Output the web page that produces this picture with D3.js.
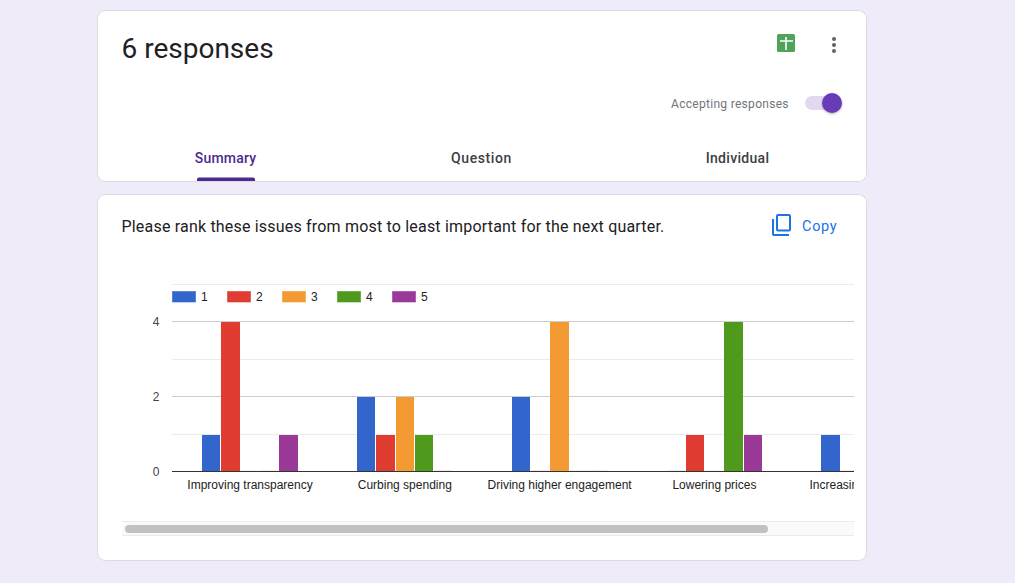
<!DOCTYPE html>
<html><head><meta charset="utf-8">
<script src="https://cdnjs.cloudflare.com/ajax/libs/d3/7.8.5/d3.min.js"></script>
<style>html,body{margin:0;padding:0;background:#f0ebf8;overflow:hidden}svg{display:block}</style>
</head><body><div id="c"></div>
<script>
const categories = ["Improving transparency","Curbing spending","Driving higher engagement","Lowering prices","Increasing productivity"];
const seriesNames = ["1","2","3","4","5"];
const seriesColors = ["#3366cc","#e03c31","#f39a33","#4f9a1c","#9b3999"];
const rank1 = [1,2,2,0,1];
const rank2 = [4,1,0,1,0];
const rank3 = [0,2,4,0,0];
const rank4 = [0,1,0,4,1];
const rank5 = [1,0,0,1,4];
const seriesValues = [rank1,rank2,rank3,rank4,rank5];
const yGrid = [0,1,2,3,4,5];
const yLabels = [0,2,4];

const UI = "Roboto, sans-serif", CH = "'Liberation Sans', Arial, sans-serif";
const svg = d3.select("#c").append("svg").attr("width",1015).attr("height",583);
svg.append("rect").attr("width",1015).attr("height",583).attr("fill","#f0ebf8");
const defs = svg.append("defs");
defs.append("clipPath").attr("id","plot").append("rect").attr("x",122).attr("y",270).attr("width",732).attr("height",240);
const sh = defs.append("filter").attr("id","sh").attr("x","-50%").attr("y","-50%").attr("width","200%").attr("height","200%");
sh.append("feDropShadow").attr("dx",0).attr("dy",1).attr("stdDeviation",1).attr("flood-color","#000").attr("flood-opacity",.3);

// cards
[[10.5,171],[194.5,366]].forEach(([y,h])=>svg.append("rect").attr("x",97.5).attr("y",y).attr("width",769).attr("height",h)
  .attr("rx",8).attr("fill","#fff").attr("stroke","#dadce0"));

const txt=(t,x,y,size,fill,opt={})=>svg.append("text").text(t).attr("x",x).attr("y",y)
  .attr("font-family",opt.font||UI).attr("font-size",size).attr("fill",fill)
  .attr("font-weight",opt.weight||400).attr("text-anchor",opt.anchor||"start")
  .attr("letter-spacing",opt.ls||null);

txt("6 responses",121.5,58,28,"#202124");
txt("Accepting responses",671,108,12,"#70757a",{ls:"0.3px"});
txt("Summary",225.5,163,14,"#4d2a8f",{anchor:"middle",weight:500,ls:"0.2px"});
txt("Question",481.5,163,14,"#3c4043",{anchor:"middle",weight:500,ls:"0.6px"});
txt("Individual",737.5,163,14,"#3c4043",{anchor:"middle",weight:500,ls:"0.3px"});
svg.append("path").attr("d","M197 181v-1.5a2 2 0 0 1 2-2h54a2 2 0 0 1 2 2V181z").attr("fill","#4d2a8f");

// sheets icon
svg.append("rect").attr("x",777).attr("y",34).attr("width",18).attr("height",18).attr("rx",1.5).attr("fill","#4fa35a");
svg.append("path").attr("d","M780 41h13M786 37v13").attr("stroke","#fff").attr("stroke-width",1.6).attr("fill","none");
// more dots
[39,45,51].forEach(y=>svg.append("circle").attr("cx",834).attr("cy",y).attr("r",2).attr("fill","#5f6368"));
// toggle
svg.append("rect").attr("x",805).attr("y",96).attr("width",30).attr("height",14).attr("rx",7).attr("fill","#e2d9f1");
svg.append("circle").attr("cx",832).attr("cy",103).attr("r",10).attr("fill","#673ab7").attr("filter","url(#sh)");

txt("Please rank these issues from most to least important for the next quarter.",121.5,232,16,"#202124",{ls:"0.19px"});
// copy icon
svg.append("path").attr("d","M773 219v15a1 1 0 0 0 1 1h15").attr("fill","none").attr("stroke","#1a73e8").attr("stroke-width",2);
svg.append("rect").attr("x",777).attr("y",215).attr("width",13).attr("height",15.5).attr("rx",1).attr("fill","none").attr("stroke","#1a73e8").attr("stroke-width",2);
txt("Copy",802,230.5,14.5,"#1a73e8",{ls:"0.7px"});

// chart
const x0 = d3.scaleBand().domain(categories).range([172.95,172.95+154.8*5]);
const x1 = d3.scaleBand().domain(seriesNames).range([0,96.5]);
const y = d3.scaleLinear().domain([0,5]).range([471,284]);
const plot = svg.append("g").attr("clip-path","url(#plot)");

plot.selectAll("line.g").data(yGrid.slice(1)).join("line").attr("class","g")
  .attr("x1",172).attr("x2",854).attr("y1",d=>Math.round(y(d))+.5).attr("y2",d=>Math.round(y(d))+.5)
  .attr("stroke",d=>d%2===0?"#cccccc":"#ebebeb");

const groupOffset = x0.bandwidth()/2-96.5/2;
const barLeft=(i,s)=>Math.round(x0(categories[i])+groupOffset+x1(s));
const barRight=(i,s)=>Math.round(x0(categories[i])+groupOffset+x1(s)+x1.bandwidth())-1;
const barTop=d=>d===0?470:Math.round(y(d))+1;
seriesNames.forEach((s,si)=>{
  plot.selectAll("rect.b"+s).data(seriesValues[si]).join("rect").attr("class","b"+s)
    .attr("x",(d,i)=>barLeft(i,s))
    .attr("width",(d,i)=>barRight(i,s)-barLeft(i,s))
    .attr("y",barTop)
    .attr("height",d=>471-barTop(d))
    .attr("fill",seriesColors[si])
    .attr("fill-opacity",d=>d===0?.12:1);
});
plot.append("line").attr("x1",172).attr("x2",854).attr("y1",471.5).attr("y2",471.5).attr("stroke","#333").attr("stroke-width",1);

plot.selectAll("text.cat").data(categories).join("text").attr("class","cat")
  .attr("x",d=>x0(d)+x0.bandwidth()/2-.35).attr("y",489).attr("text-anchor","middle")
  .attr("font-family",CH).attr("font-size",12).attr("fill","#222").text(d=>d);

svg.selectAll("text.yl").data(yLabels).join("text").attr("class","yl")
  .attr("x",159.5).attr("y",d=>y(d)+4.5).attr("text-anchor","end")
  .attr("font-family",CH).attr("font-size",12).attr("fill","#444").text(d=>d);

// legend
const lx = d3.scalePoint().domain(seriesNames).range([172.5,392.5]);
seriesNames.forEach((s,i)=>{
  svg.append("rect").attr("x",lx(s)).attr("y",291.5).attr("width",23).attr("height",10.5)
    .attr("fill",seriesColors[i]).attr("stroke",seriesColors[i]).attr("stroke-opacity",.6);
  svg.append("text").text(s).attr("x",lx(s)+28.5).attr("y",301).attr("font-family",CH).attr("font-size",12).attr("fill","#222");
});

// scrollbar
svg.append("rect").attr("x",122).attr("y",521.5).attr("width",732).attr("height",14).attr("fill","#fafafa");
[521.5,535.5].forEach(v=>svg.append("line").attr("x1",122).attr("x2",854).attr("y1",v).attr("y2",v).attr("stroke","#ebebeb"));
svg.append("rect").attr("x",125).attr("y",525).attr("width",643).attr("height",8).attr("rx",4).attr("fill","#c1c1c1");
</script></body></html>
